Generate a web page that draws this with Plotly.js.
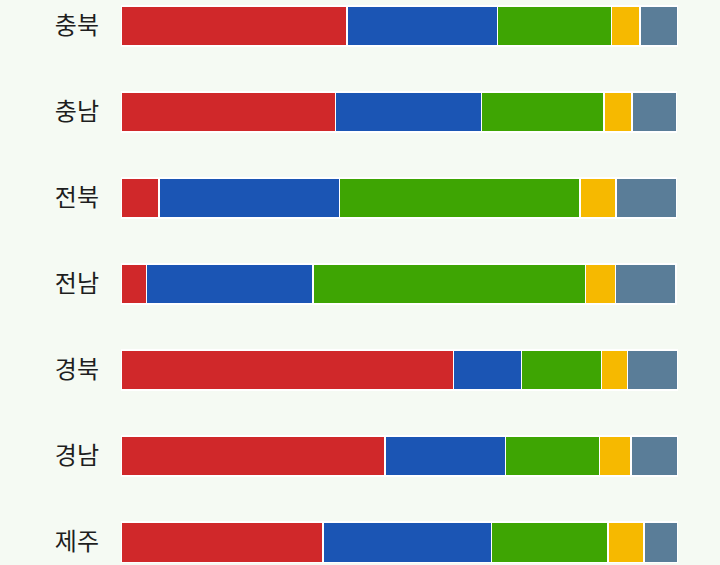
<!DOCTYPE html>
<html>
<head>
<meta charset="utf-8">
<script src="https://cdn.plot.ly/plotly-3.0.1.min.js"></script>
<style>
  html, body { margin: 0; padding: 0; background: #f5faf3; }
  #myDiv { width: 720px; height: 565px; }
</style>
</head>
<body>
<div id="myDiv"></div>
<script>
  // regions, top to bottom
  var regions = ["충북", "충남", "전북", "전남", "경북", "경남", "제주"];

  // share per party (%)
  var redVals    = [40.6, 38.5,  6.8,  4.6, 59.7, 47.4, 36.3];
  var blueVals   = [27.0, 26.2, 32.4, 29.9, 12.2, 21.6, 30.2];
  var greenVals  = [20.5, 22.0, 43.2, 48.9, 14.4, 16.9, 20.9];
  var yellowVals = [ 5.1,  5.0,  6.5,  5.4,  4.6,  5.7,  6.5];
  var grayVals   = [ 6.8,  8.0, 10.8, 10.8,  9.0,  8.3,  6.1];

  var seriesVals = [redVals, blueVals, greenVals, yellowVals, grayVals];
  var colors = ["#d0282a", "#1b55b4", "#3ea503", "#f6b900", "#5a7d98"];

  var data = [];
  for (let i = 0; i < seriesVals.length; i++) {
    data.push({
      type: "bar",
      orientation: "h",
      y: regions,
      x: seriesVals[i],
      width: 0.47,
      marker: {color: colors[i], line: {color: "#ffffff", width: 1.5}},
      hoverinfo: "x+y"
    });
  }

  var layout = {
    width: 720,
    height: 565,
    barmode: "stack",
    showlegend: false,
    paper_bgcolor: "#f5faf3",
    plot_bgcolor: "#f5faf3",
    margin: {t: 0, b: 0, l: 121, r: 42},
    xaxis: {range: [0, 100], visible: false, fixedrange: true},
    yaxis: {
      type: "category",
      range: [6.267, -0.302],
      showgrid: false,
      zeroline: false,
      showline: false,
      ticks: "",
      ticklabelstandoff: 21,
      tickfont: {family: "Noto Sans CJK KR", size: 24, color: "#1e1e1e"},
      fixedrange: true
    }
  };

  Plotly.newPlot('myDiv', data, layout, {displayModeBar: false});
</script>
</body>
</html>
